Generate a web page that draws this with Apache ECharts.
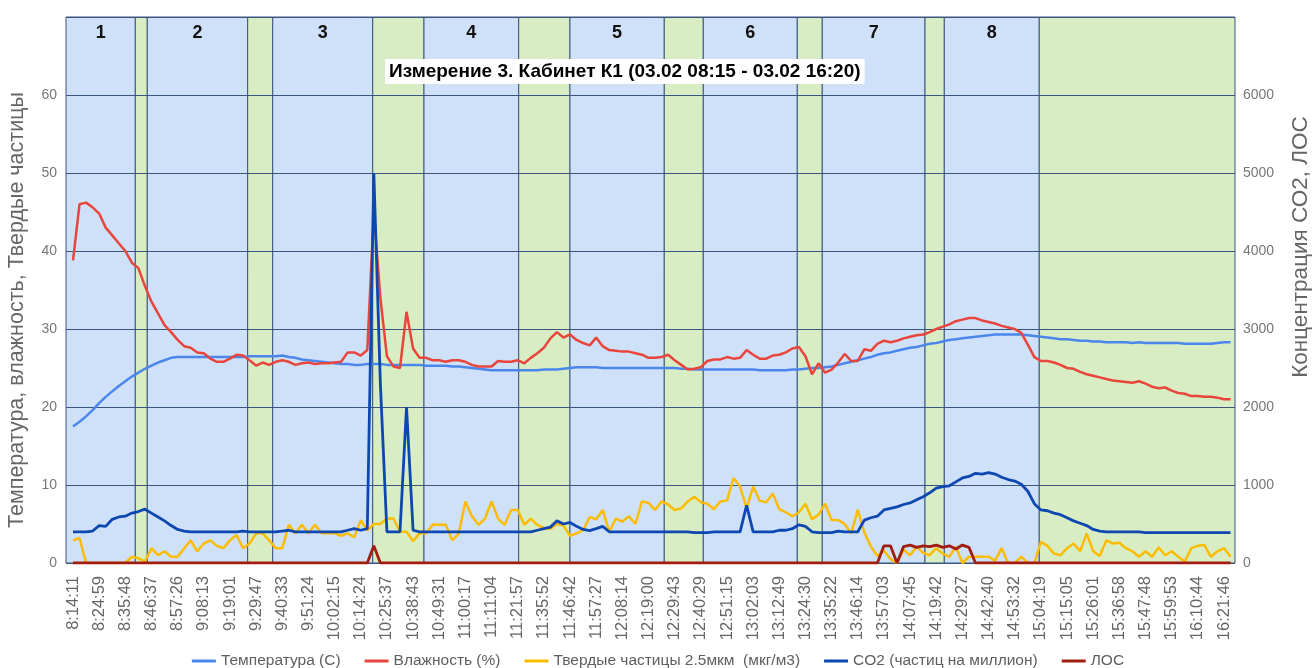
<!DOCTYPE html>
<html>
<head>
<meta charset="utf-8">
<script src="https://cdn.jsdelivr.net/npm/echarts@6/dist/echarts.min.js"></script>
<style>
  html, body { margin: 0; padding: 0; background: #fff; }
  #chart { width: 1316px; height: 668px; }
</style>
</head>
<body>
<div id="chart"></div>
<script>
// x-axis labels, one every 4 samples
const timeLabels = [
  "8:14:11", "8:24:59", "8:35:48", "8:46:37", "8:57:26", "9:08:13", "9:19:01", "9:29:47", "9:40:33",
  "9:51:24", "10:02:15", "10:14:24", "10:25:37", "10:38:43", "10:49:31", "11:00:17", "11:11:04",
  "11:21:57", "11:35:52", "11:46:42", "11:57:27", "12:08:14", "12:19:00", "12:29:43", "12:40:29",
  "12:51:15", "13:02:03", "13:12:49", "13:24:30", "13:35:22", "13:46:14", "13:57:03", "14:07:45",
  "14:19:42", "14:29:27", "14:42:40", "14:53:32", "15:04:19", "15:15:05", "15:26:01", "15:36:58",
  "15:47:48", "15:59:53", "16:10:44", "16:21:46"
];
const samplesPerLabel = 4;

const temperature = [
  17.5, 18.1, 18.8, 19.6, 20.5, 21.3, 22.0, 22.7, 23.3, 23.9,
  24.4, 24.9, 25.3, 25.7, 26.0, 26.3, 26.4, 26.4, 26.4, 26.4,
  26.4, 26.4, 26.4, 26.4, 26.4, 26.4, 26.4, 26.5, 26.5, 26.5,
  26.5, 26.5, 26.6, 26.4, 26.3, 26.1, 26.0, 25.9,
  25.8, 25.7, 25.6, 25.5, 25.5, 25.4, 25.4, 25.5,
  25.5, 25.5, 25.4, 25.4, 25.4, 25.4, 25.4, 25.4, 25.3, 25.3, 25.3, 25.3,
  25.2, 25.2, 25.1, 25.0, 24.9, 24.8, 24.7, 24.7, 24.7, 24.7, 24.7, 24.7,
  24.7, 24.7, 24.8, 24.8, 24.8, 24.9, 25.0, 25.1, 25.1, 25.1,
  25.1, 25.0, 25.0, 25.0, 25.0, 25.0, 25.0, 25.0, 25.0, 25.0,
  25.0, 25.0, 25.0, 24.9, 24.9, 24.8, 24.8, 24.8, 24.8, 24.8,
  24.8, 24.8, 24.8, 24.8, 24.8, 24.7, 24.7, 24.7, 24.7, 24.7,
  24.8, 24.8, 24.9, 25.0, 25.0, 25.1, 25.2, 25.4, 25.6, 25.8,
  26.0, 26.2, 26.4, 26.7, 26.9, 27.0, 27.2, 27.4, 27.6, 27.7,
  27.9, 28.1, 28.2, 28.4, 28.6, 28.7, 28.8, 28.9, 29.0, 29.1,
  29.2, 29.3, 29.3, 29.3, 29.3, 29.3, 29.2, 29.1, 29.0, 28.9,
  28.8, 28.7, 28.7, 28.6, 28.5, 28.5, 28.4, 28.4, 28.3, 28.3,
  28.3, 28.3, 28.2, 28.3, 28.2, 28.2, 28.2, 28.2, 28.2, 28.2,
  28.1, 28.1, 28.1, 28.1, 28.1, 28.2, 28.3, 28.3
];

const humidity = [
  38.8, 46.0, 46.2, 45.6, 44.8, 43.0, 42.0, 41.0, 40.0, 38.5,
  37.8, 35.5, 33.5, 32.0, 30.5, 29.6, 28.6, 27.8, 27.6, 27.0,
  26.9, 26.2, 25.8, 25.8, 26.2, 26.7, 26.6, 26.0, 25.3, 25.7,
  25.4, 25.8, 26.0, 25.8, 25.4, 25.6, 25.7, 25.5,
  25.6, 25.6, 25.7, 25.8, 27.0, 27.0, 26.6, 27.3,
  45.0, 34.0, 26.5, 25.2, 25.0, 32.2, 27.5, 26.3, 26.3, 26.0, 26.0, 25.8,
  26.0, 26.0, 25.8, 25.4, 25.2, 25.2, 25.2, 25.9, 25.8, 25.8, 26.0, 25.6,
  26.3, 26.9, 27.6, 28.8, 29.6, 28.9, 29.3, 28.6, 28.2, 27.9,
  28.9, 27.8, 27.3, 27.2, 27.1, 27.1, 26.9, 26.7, 26.3, 26.3,
  26.4, 26.7, 26.0, 25.4, 24.8, 24.9, 25.1, 25.9, 26.1, 26.1,
  26.4, 26.2, 26.3, 27.3, 26.7, 26.2, 26.2, 26.6, 26.7, 27.0,
  27.5, 27.7, 26.5, 24.2, 25.6, 24.4, 24.8, 25.7, 26.8, 25.9,
  25.9, 27.4, 27.2, 28.1, 28.5, 28.3, 28.5, 28.8, 29.0, 29.2,
  29.3, 29.6, 30.0, 30.3, 30.6, 31.0, 31.2, 31.4, 31.4, 31.1,
  30.9, 30.7, 30.4, 30.2, 30.0, 29.5, 28.0, 26.4, 25.9, 25.9,
  25.7, 25.4, 25.0, 24.9, 24.5, 24.2, 24.0, 23.8, 23.6, 23.4,
  23.3, 23.2, 23.1, 23.3, 23.0, 22.6, 22.4, 22.5, 22.1, 21.8,
  21.7, 21.4, 21.4, 21.3, 21.3, 21.2, 21.0, 21.0
];

const particles = [
  2.9, 3.2, 0, 0, 0, 0, 0, 0, 0, 0.8,
  0.6, 0.2, 1.9, 1.0, 1.5, 0.8, 0.8, 1.9, 2.9, 1.5,
  2.5, 2.9, 2.2, 1.9, 2.9, 3.6, 1.9, 2.5, 3.8, 3.8,
  2.9, 1.9, 1.9, 4.9, 3.8, 4.9, 3.8, 4.9,
  3.8, 3.8, 3.8, 3.5, 3.8, 3.3, 5.5, 4.2,
  5.0, 5.0, 5.7, 5.7, 4.0, 4.0, 2.8, 3.8, 3.8, 4.9, 4.9, 4.9,
  2.9, 3.8, 7.9, 6.0, 4.9, 5.7, 7.9, 5.7, 4.9, 6.8, 6.8, 4.9,
  5.7, 4.9, 4.5, 4.4, 5.0, 4.8, 3.5, 3.8, 4.2, 5.9,
  5.6, 6.8, 4.0, 5.7, 5.3, 6.0, 5.0, 7.9, 7.7, 6.8,
  7.9, 7.5, 6.8, 7.0, 7.9, 8.5, 7.8, 7.6, 6.9, 7.9,
  8.0, 10.9, 9.8, 7.0, 9.8, 8.0, 7.8, 8.9, 6.9, 6.5,
  6.0, 6.5, 7.6, 5.6, 6.2, 7.6, 5.5, 5.5, 5.0, 3.8,
  6.8, 3.9, 2.1, 0.9, 1.6, 0.5, 0, 1.7, 1.0, 2.1,
  1.3, 1.0, 1.9, 1.2, 0.8, 2.1, 0, 0.8, 0.8, 0.8,
  0.8, 0.3, 1.9, 0, 0, 0.8, 0, 0, 2.7, 2.2,
  1.2, 1.0, 1.9, 2.5, 1.5, 3.8, 1.5, 0.9, 2.9, 2.5,
  2.6, 1.9, 1.5, 0.8, 1.5, 0.8, 2.0, 1.0, 1.5, 0.8,
  0.2, 1.9, 2.2, 2.3, 0.8, 1.5, 1.9, 0.8
];

const co2 = [
  400, 400, 400, 410, 480, 470, 560, 590, 600, 640,
  660, 690, 640, 590, 540, 480, 430, 410, 400, 400,
  400, 400, 400, 400, 400, 400, 410, 400, 400, 400,
  400, 400, 410, 420, 400, 400, 400, 400,
  400, 400, 400, 400, 420, 440, 420, 440,
  5000, 2300, 400, 400, 400, 2000, 420, 400, 400, 400, 400, 400,
  400, 400, 400, 400, 400, 400, 400, 400, 400, 400, 400, 400,
  400, 420, 440, 460, 540, 500, 520, 470, 430, 415,
  440, 470, 400, 400, 400, 400, 400, 400, 400, 400,
  400, 400, 400, 400, 400, 390, 390, 390, 400, 400,
  400, 400, 400, 740, 400, 400, 400, 400, 420, 420,
  440, 490, 470, 400, 390, 390, 390, 410, 400, 400,
  400, 550, 580, 600, 680, 700, 720, 750, 770, 810,
  850, 900, 960, 980, 990, 1040, 1090, 1110, 1150, 1140,
  1160, 1140, 1100, 1070, 1050, 1010, 920, 760, 680, 670,
  640, 620, 580, 540, 510, 480, 430, 410, 400, 400,
  400, 400, 400, 400, 390, 390, 390, 390, 390, 390,
  390, 390, 390, 390, 390, 390, 390, 390
];

const voc = [
  0, 0, 0, 0, 0, 0, 0, 0, 0, 0,
  0, 0, 0, 0, 0, 0, 0, 0, 0, 0,
  0, 0, 0, 0, 0, 0, 0, 0, 0, 0,
  0, 0, 0, 0, 0, 0, 0, 0, 0, 0,
  0, 0, 0, 0, 0, 0, 220, 0, 0, 0,
  0, 0, 0, 0, 0, 0, 0, 0, 0, 0,
  0, 0, 0, 0, 0, 0, 0, 0, 0, 0,
  0, 0, 0, 0, 0, 0, 0, 0, 0, 0,
  0, 0, 0, 0, 0, 0, 0, 0, 0, 0,
  0, 0, 0, 0, 0, 0, 0, 0, 0, 0,
  0, 0, 0, 0, 0, 0, 0, 0, 0, 0,
  0, 0, 0, 0, 0, 0, 0, 0, 0, 0,
  0, 0, 0, 0, 220, 220, 0, 210, 230, 200,
  220, 210, 230, 200, 220, 180, 230, 200, 0, 0,
  0, 0, 0, 0, 0, 0, 0, 0, 0, 0,
  0, 0, 0, 0, 0, 0, 0, 0, 0, 0,
  0, 0, 0, 0, 0, 0, 0, 0, 0, 0,
  0, 0, 0, 0, 0, 0, 0, 0
];

// phase bands (in sample index units) and their numbers
const phaseEdges = [-1.07, 9.53, 11.36, 26.71, 30.54, 45.83, 53.67, 68.15, 75.99,
  90.41, 96.38, 110.75, 114.57, 130.28, 133.23, 147.75, 177.68];
const phaseNames = ["1", "", "2", "", "3", "", "4", "", "5", "", "6", "", "7", "", "8", ""];

const seriesNames = [
  "Температура (C)",
  "Влажность (%)",
  "Твердые частицы 2.5мкм  (мкг/м3)",
  "CO2 (частиц на миллион)",
  "ЛОС"
];

const LINE = "#3a557e";
const BLUE_BAND = "#cfe1f8";
const GREEN_BAND = "#d9edc4";
const FONT = "'Liberation Sans', Arial, sans-serif";

const toPoints = (arr) => arr.map((v, i) => [i, v]);

const bands = phaseNames.map((name, i) => [
  {
    xAxis: phaseEdges[i],
    name: name,
    itemStyle: { color: name ? BLUE_BAND : GREEN_BAND }
  },
  { xAxis: phaseEdges[i + 1] }
]);

const chart = echarts.init(document.getElementById("chart"));

chart.setOption({
  animation: false,
  textStyle: { fontFamily: FONT },
  title: {
    text: "Измерение 3. Кабинет К1 (03.02 08:15 - 03.02 16:20)",
    left: 385,
    top: 59,
    padding: [3, 4],
    backgroundColor: "#ffffff",
    textStyle: { fontSize: 19, fontWeight: "bold", color: "#000" }
  },
  legend: {
    data: seriesNames,
    top: 648,
    left: "center",
    icon: "rect",
    itemWidth: 24,
    itemHeight: 3,
    itemGap: 24,
    textStyle: { fontSize: 15.5, color: "#5f5f5f" }
  },
  grid: {
    left: 66, right: 81, top: 17, bottom: 105,
    show: false, containLabel: false, outerBoundsMode: "none"
  },
  xAxis: {
    type: "value",
    min: phaseEdges[0],
    max: phaseEdges[phaseEdges.length - 1],
    axisLine: { show: false },
    axisTick: { show: false },
    splitLine: { show: false },
    axisLabel: {
      customValues: timeLabels.map((_, i) => i * samplesPerLabel),
      formatter: (v) => timeLabels[Math.round(v / samplesPerLabel)] || "",
      rotate: 90,
      margin: 13,
      fontSize: 16.5,
      color: "#666"
    }
  },
  yAxis: [
    {
      type: "value",
      min: 0,
      max: 70,
      interval: 10,
      z: 1.5,
      name: "Температура, влажность, Твердые частицы",
      nameLocation: "middle",
      nameRotate: 90,
      nameGap: 38,
      nameTextStyle: { fontSize: 21.5, color: "#666", padding: [0, 40, 0, 0] },
      axisLine: { show: false },
      axisTick: { show: false },
      axisLabel: { showMaxLabel: false, color: "#777", fontSize: 14, margin: 9 },
      splitLine: { lineStyle: { color: LINE, width: 1 } }
    },
    {
      type: "value",
      min: 0,
      max: 7000,
      interval: 1000,
      position: "right",
      name: "Концентрация СО2, ЛОС",
      nameLocation: "middle",
      nameRotate: 90,
      nameGap: 54,
      nameTextStyle: { fontSize: 22.5, color: "#666", padding: [0, 0, 0, 86] },
      axisLine: { show: false },
      axisTick: { show: false },
      axisLabel: {
        showMaxLabel: false,
        color: "#777",
        fontSize: 14,
        margin: 8,
        formatter: (v) => String(v)
      },
      splitLine: { show: false }
    }
  ],
  series: [
    {
      name: seriesNames[0],
      type: "line",
      yAxisIndex: 0,
      symbol: "none",
      color: "#4a86ec",
      lineStyle: { width: 2.5 },
      data: toPoints(temperature),
      markArea: {
        silent: true,
        z: 1,
        itemStyle: { borderColor: LINE, borderWidth: 1 },
        label: {
          position: "insideTop",
          distance: 8,
          fontSize: 18,
          fontWeight: "bold",
          color: "#111"
        },
        data: bands
      }
    },
    {
      name: seriesNames[1],
      type: "line",
      yAxisIndex: 0,
      symbol: "none",
      color: "#e8453c",
      lineStyle: { width: 2.5 },
      data: toPoints(humidity)
    },
    {
      name: seriesNames[2],
      type: "line",
      yAxisIndex: 0,
      symbol: "none",
      color: "#fbbc04",
      lineStyle: { width: 2.5 },
      data: toPoints(particles)
    },
    {
      name: seriesNames[3],
      type: "line",
      yAxisIndex: 1,
      symbol: "none",
      color: "#0d47b0",
      lineStyle: { width: 2.8 },
      data: toPoints(co2)
    },
    {
      name: seriesNames[4],
      type: "line",
      yAxisIndex: 1,
      symbol: "none",
      color: "#a01d10",
      lineStyle: { width: 2.8 },
      data: toPoints(voc)
    }
  ]
});
</script>
</body>
</html>
